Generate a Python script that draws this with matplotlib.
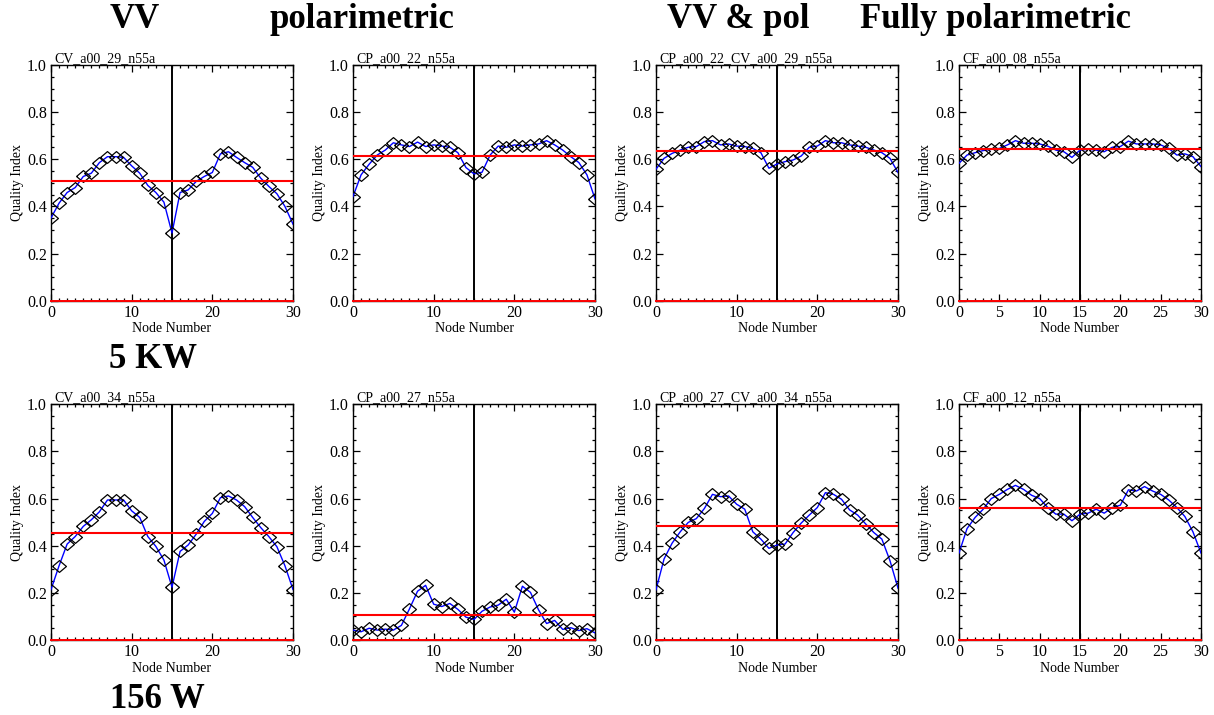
import numpy as np
import matplotlib
matplotlib.use("Agg")
import matplotlib.pyplot as plt
from matplotlib.ticker import MultipleLocator

plt.rcParams['font.family'] = ['Liberation Serif', 'DejaVu Serif']

# node numbers along the swath
nodes = list(range(31))

# 5 KW row
vv_5kw = [0.351, 0.414, 0.459, 0.480, 0.527, 0.541, 0.586, 0.611, 0.611, 0.608,
          0.572, 0.541, 0.489, 0.459, 0.418, 0.287, 0.459, 0.470, 0.506, 0.527,
          0.544, 0.623, 0.632, 0.608, 0.586, 0.566, 0.520, 0.485, 0.454, 0.400, 0.325]
pol_5kw = [0.442, 0.534, 0.579, 0.618, 0.639, 0.670, 0.661, 0.654, 0.673, 0.654,
           0.661, 0.656, 0.651, 0.628, 0.565, 0.538, 0.545, 0.618, 0.656, 0.651,
           0.661, 0.656, 0.661, 0.665, 0.679, 0.661, 0.639, 0.611, 0.586, 0.534, 0.432]
vvpol_5kw = [0.558, 0.604, 0.625, 0.639, 0.651, 0.654, 0.675, 0.679, 0.661, 0.665,
             0.656, 0.654, 0.646, 0.628, 0.562, 0.580, 0.590, 0.597, 0.614, 0.651,
             0.656, 0.679, 0.670, 0.670, 0.661, 0.656, 0.651, 0.639, 0.628, 0.604, 0.544]
full_5kw = [0.583, 0.618, 0.628, 0.637, 0.642, 0.646, 0.661, 0.679, 0.668, 0.668,
            0.665, 0.656, 0.639, 0.632, 0.608, 0.639, 0.642, 0.639, 0.632, 0.651,
            0.654, 0.677, 0.665, 0.665, 0.665, 0.661, 0.646, 0.618, 0.623, 0.611, 0.569]

# 156 W row
vv_156w = [0.214, 0.315, 0.407, 0.439, 0.482, 0.510, 0.544, 0.594, 0.594, 0.594,
           0.548, 0.520, 0.439, 0.397, 0.339, 0.224, 0.376, 0.403, 0.449, 0.503,
           0.537, 0.604, 0.611, 0.594, 0.566, 0.520, 0.477, 0.439, 0.396, 0.315, 0.214]
pol_156w = [0.042, 0.035, 0.050, 0.042, 0.046, 0.042, 0.062, 0.132, 0.207, 0.232,
            0.152, 0.142, 0.155, 0.130, 0.097, 0.087, 0.122, 0.140, 0.148, 0.173,
            0.118, 0.228, 0.202, 0.128, 0.070, 0.083, 0.045, 0.052, 0.040, 0.048, 0.030]
vvpol_156w = [0.213, 0.344, 0.411, 0.459, 0.499, 0.515, 0.558, 0.618, 0.608, 0.611,
              0.576, 0.555, 0.459, 0.428, 0.389, 0.403, 0.407, 0.456, 0.496, 0.530,
              0.562, 0.625, 0.618, 0.597, 0.552, 0.530, 0.492, 0.456, 0.428, 0.337, 0.220]
full_156w = [0.369, 0.473, 0.520, 0.555, 0.600, 0.618, 0.639, 0.656, 0.639, 0.614,
             0.600, 0.562, 0.534, 0.534, 0.506, 0.534, 0.538, 0.555, 0.538, 0.562,
             0.572, 0.637, 0.632, 0.651, 0.632, 0.618, 0.594, 0.562, 0.524, 0.459, 0.369]

# mean quality index (red line) per panel
means_5kw = [0.506, 0.614, 0.635, 0.642]
means_156w = [0.456, 0.105, 0.483, 0.562]

names_5kw = ["CV_a00_29_n55a", "CP_a00_22_n55a", "CP_a00_22_CV_a00_29_n55a", "CF_a00_08_n55a"]
names_156w = ["CV_a00_34_n55a", "CP_a00_27_n55a", "CP_a00_27_CV_a00_34_n55a", "CF_a00_12_n55a"]

col_titles = ["VV", "polarimetric", "VV & pol", "Fully polarimetric"]
row_titles = ["5 KW", "156 W"]

rows = [
    ([vv_5kw, pol_5kw, vvpol_5kw, full_5kw], means_5kw, names_5kw),
    ([vv_156w, pol_156w, vvpol_156w, full_156w], means_156w, names_156w),
]

# IDL-style diamond, a little wider than tall
diamond = [(-1, 0), (0, 0.85), (1, 0), (0, -0.85), (-1, 0)]

W, H = 1214, 715
fig = plt.figure(figsize=(W / 100, H / 100), dpi=100)

lefts = [51, 353, 656, 959]
bottoms = [300.7, 640]
ax_w, ax_h = 242, 235.7

for r, (series, means, names) in enumerate(rows):
    for c in range(4):
        ax = fig.add_axes([lefts[c] / W, (H - bottoms[r]) / H, ax_w / W, ax_h / H])
        y = series[c]
        ax.plot(nodes, y, color='#0000ff', lw=1.0, zorder=3)
        ax.plot(nodes, y, linestyle='none', marker=diamond, ms=10, mfc='none',
                mec='black', mew=0.9, zorder=4)
        ax.axhline(means[c], color='#ff0000', lw=1.5, zorder=5)
        ax.axhline(0.0, color='#ff0000', lw=1.4, zorder=6, clip_on=False)
        ax.axvline(15, color='black', lw=1.4, zorder=2)

        ax.set_xlim(0, 30)
        ax.set_ylim(0, 1.0)
        if c == 3:
            ax.xaxis.set_major_locator(MultipleLocator(5))
        else:
            ax.xaxis.set_major_locator(MultipleLocator(10))
        ax.xaxis.set_minor_locator(MultipleLocator(1))
        ax.yaxis.set_major_locator(MultipleLocator(0.2))
        ax.yaxis.set_minor_locator(MultipleLocator(0.05))
        ax.yaxis.set_major_formatter(matplotlib.ticker.FormatStrFormatter('%.1f'))
        ax.tick_params(which='both', direction='in', top=True, right=True,
                       labelsize=11.5, width=0.9)
        ax.tick_params(which='major', length=5, pad=3)
        ax.tick_params(which='minor', length=2.5)
        for s in ax.spines.values():
            s.set_linewidth(1.0)

        ax.set_xlabel("Node Number", fontsize=10, labelpad=1)
        ax.set_ylabel("Quality Index", fontsize=10, labelpad=2)
        ax.set_title(names[c], fontsize=10, loc='left', pad=2, x=0.012)

# column headings
col_x = [135, 362, 738, 995]
for cx, t in zip(col_x, col_titles):
    fig.text(cx / W, 1 - 28 / H, t, ha='center', va='baseline',
             fontsize=25, fontweight='bold')

# row headings (transmit power)
fig.text(153 / W, 1 - 368 / H, row_titles[0], ha='center', va='baseline',
         fontsize=25, fontweight='bold')
fig.text(157 / W, 1 - 708 / H, row_titles[1], ha='center', va='baseline',
         fontsize=25, fontweight='bold')

fig.savefig("out.png", dpi=100)
